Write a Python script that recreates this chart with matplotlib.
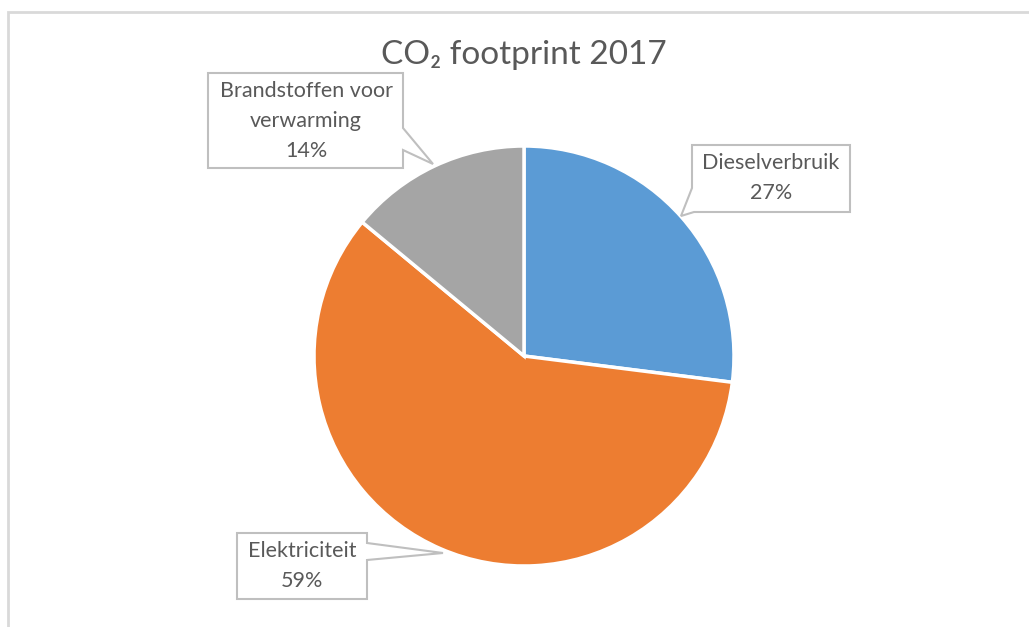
import matplotlib
matplotlib.use("Agg")
import matplotlib.pyplot as plt
from matplotlib.patches import Polygon, Rectangle

# Data
categories = ["Dieselverbruik", "Elektriciteit", "Brandstoffen voor\nverwarming"]
values = [27, 59, 14]
colors = ["#5B9BD5", "#ED7D31", "#A5A5A5"]
title = "CO\u2082 footprint 2017"

W, H = 1029, 627
fig = plt.figure(figsize=(W / 100, H / 100), dpi=100)
ax = fig.add_axes([0, 0, 1, 1])

FAM = ["Lato", "DejaVu Sans"]
TXT = "#595959"
EDGE = "#BFBFBF"

def Y(y):
    return H - y

cx, cy, r = 524, 356, 210
ax.pie(values, colors=colors, startangle=90, counterclock=False,
       center=(cx, Y(cy)), radius=r,
       wedgeprops=dict(edgecolor="white", linewidth=2.5))
ax.set_xlim(0, W)
ax.set_ylim(0, H)
ax.set_aspect("auto")
ax.axis("off")

# chart border
ax.add_patch(Rectangle((8, Y(H + 5)), W, H + 5 - 12, fill=False, edgecolor="#D9D9D9", linewidth=2))

ax.text(524, Y(55), title, ha="center", va="center", fontsize=24, color=TXT, family=FAM)

def callout(pts, tx, ty, label):
    poly = Polygon([(x, Y(y)) for x, y in pts], closed=True, facecolor="white",
                   edgecolor=EDGE, linewidth=1.5, zorder=5)
    ax.add_patch(poly)
    ax.text(tx, Y(ty), label, ha="center", va="center", fontsize=15.5, color=TXT,
            family=FAM, linespacing=1.6, zorder=6)

pct = [f"{v}%" for v in values]

# Brandstoffen voor verwarming
callout([(208, 73), (403, 73), (403, 128), (433, 164), (403, 150), (403, 168), (208, 168)],
        306, 121, categories[2] + "\n" + pct[2])
# Dieselverbruik
callout([(692, 145), (850, 145), (850, 212), (694, 212), (681, 216), (692, 188)],
        771, 178, categories[0] + "\n" + pct[0])
# Elektriciteit
callout([(237, 533), (367, 533), (367, 543), (443, 553), (367, 560), (367, 599), (237, 599)],
        302, 566, categories[1] + "\n" + pct[1])

fig.savefig("out.png", dpi=100)
